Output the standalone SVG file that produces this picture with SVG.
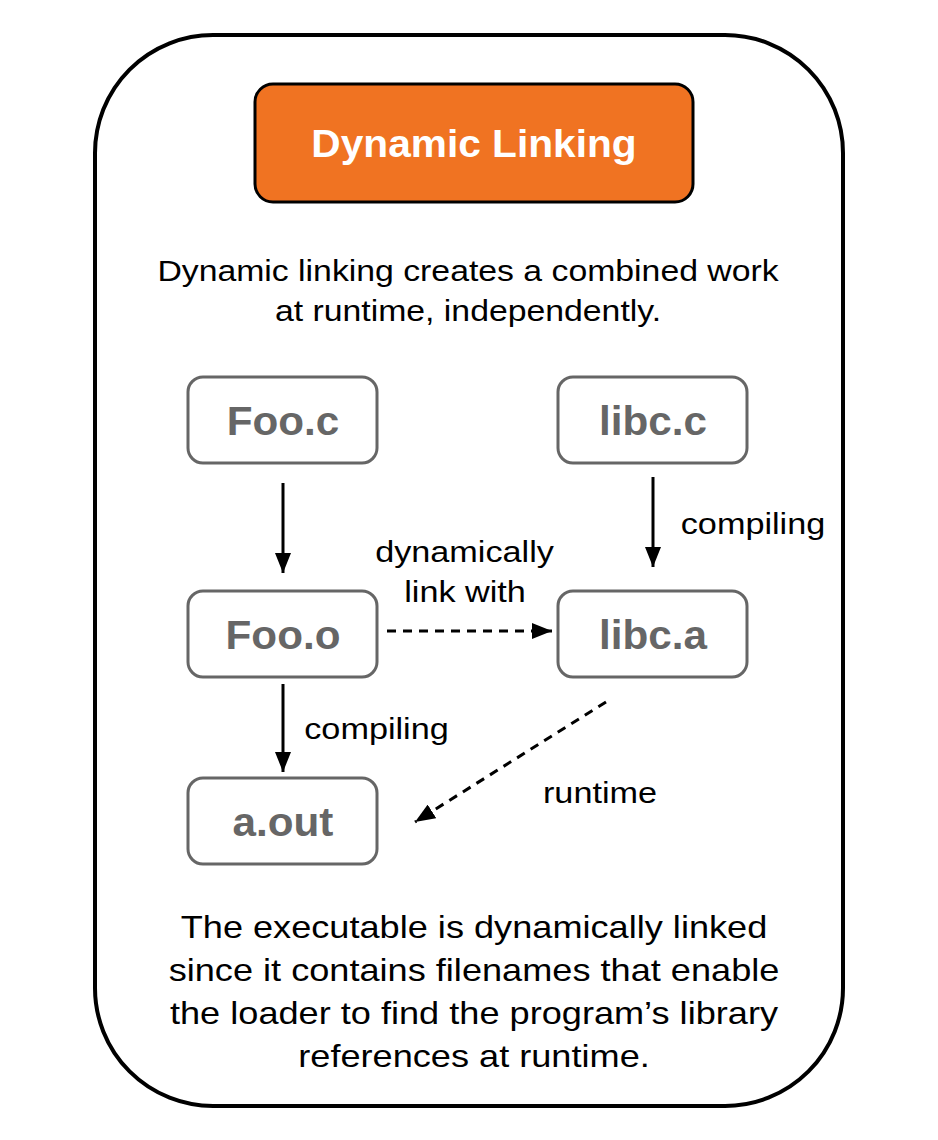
<svg xmlns="http://www.w3.org/2000/svg" width="938" height="1140" viewBox="0 0 938 1140">
<defs>
<style>
.txt{font-family:"Liberation Sans",Arial,sans-serif;fill:#000;text-anchor:middle}
.node rect{fill:#fff;stroke:#666;stroke-width:3}
.node text{font-family:"Liberation Sans",Arial,sans-serif;font-weight:bold;font-size:41px;fill:#666;text-anchor:middle}
.edge{stroke:#000;stroke-width:3;fill:none}
.dash{stroke-dasharray:9 7}
.lbl{font-size:29px}
.intro{font-size:29px}
.sum{font-size:32px}
</style>
<marker id="arrB" viewBox="0 0 20 16" refX="20" refY="8" markerWidth="20" markerHeight="16" orient="auto" markerUnits="userSpaceOnUse">
<path d="M0,0 L20,8 L0,16 Z" fill="#000"/>
</marker>
</defs>
<rect width="938" height="1140" fill="#fff"/>
<g id="frame">
<rect x="95" y="35" width="748" height="1071" rx="118" ry="118" fill="#fff" stroke="#000" stroke-width="4"/>
</g>
<g id="title">
<rect x="255" y="84" width="438" height="118" rx="18" ry="18" fill="#F07322" stroke="#000" stroke-width="3"/>
<text class="txt" transform="translate(474,157) scale(1.07,1)" style="font-size:38px;font-weight:bold;fill:#fff">Dynamic Linking</text>
</g>
<g id="intro">
<text class="txt intro" transform="translate(468,281) scale(1.165,1)">Dynamic linking creates a combined work</text>
<text class="txt intro" transform="translate(468,321) scale(1.165,1)">at runtime, independently.</text>
</g>
<g id="foo-c" class="node"><rect x="188" y="377" width="189" height="86" rx="15"/><text transform="translate(283,435) scale(1.03,1)">Foo.c</text></g>
<g id="libc-c" class="node"><rect x="558" y="377" width="189" height="86" rx="15"/><text transform="translate(653,435) scale(1.03,1)">libc.c</text></g>
<g id="foo-o" class="node"><rect x="188" y="591" width="189" height="86" rx="15"/><text transform="translate(283,649) scale(1.03,1)">Foo.o</text></g>
<g id="libc-a" class="node"><rect x="558" y="591" width="189" height="86" rx="15"/><text transform="translate(653,649) scale(1.03,1)">libc.a</text></g>
<g id="a-out" class="node"><rect x="188" y="778" width="189" height="86" rx="15"/><text transform="translate(283,836) scale(1.03,1)">a.out</text></g>
<g id="connectors">
<line class="edge" x1="283" y1="483" x2="283" y2="573" marker-end="url(#arrB)"/>
<line class="edge" x1="653" y1="477" x2="653" y2="567" marker-end="url(#arrB)"/>
<line class="edge" x1="283" y1="684" x2="283" y2="772" marker-end="url(#arrB)"/>
<line class="edge dash" x1="387" y1="631" x2="552" y2="631" marker-end="url(#arrB)"/>
<line class="edge dash" x1="606" y1="702" x2="415" y2="822" marker-end="url(#arrB)"/>
<text class="txt lbl" transform="translate(464.5,562) scale(1.18,1)">dynamically</text>
<text class="txt lbl" transform="translate(465,602) scale(1.18,1)">link with</text>
<text class="txt lbl" transform="translate(753,534) scale(1.18,1)">compiling</text>
<text class="txt lbl" transform="translate(376.5,739) scale(1.18,1)">compiling</text>
<text class="txt lbl" transform="translate(600,803) scale(1.18,1)">runtime</text>
</g>
<g id="summary">
<text class="txt sum" transform="translate(474,938) scale(1.13,1)">The executable is dynamically linked</text>
<text class="txt sum" transform="translate(474,981) scale(1.13,1)">since it contains filenames that enable</text>
<text class="txt sum" transform="translate(474,1024) scale(1.13,1)">the loader to find the program’s library</text>
<text class="txt sum" transform="translate(474,1067) scale(1.13,1)">references at runtime.</text>
</g>
</svg>
